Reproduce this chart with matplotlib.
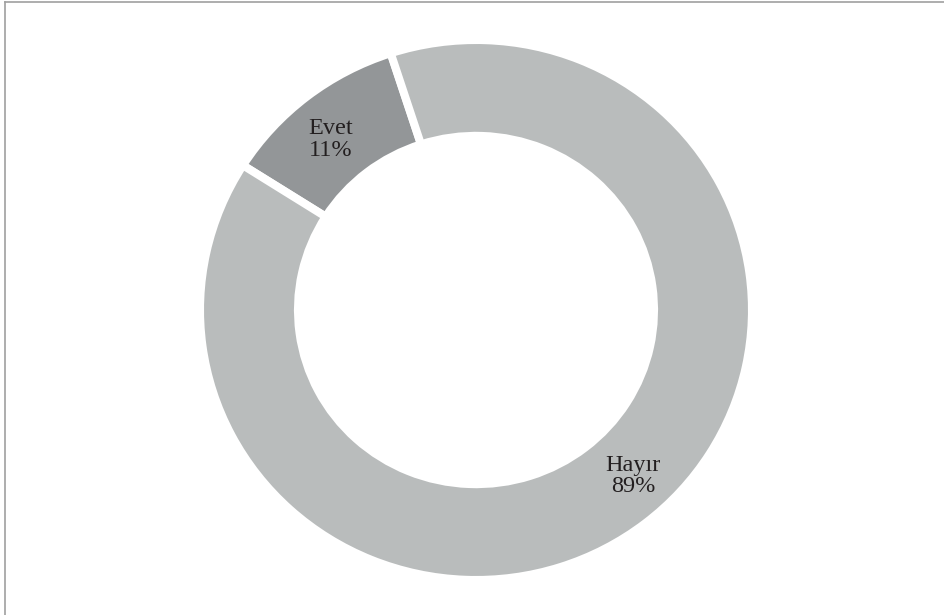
import matplotlib
matplotlib.use("Agg")
import matplotlib.pyplot as plt
import numpy as np

categories = ["Evet", "Hayır"]
values = [11, 89]
pct_labels = ["11%", "89%"]
colors = ["#939698", "#b9bcbc"]

W, H = 944, 615
fig = plt.figure(figsize=(W / 100, H / 100), dpi=100)
fig.patch.set_facecolor("white")

cx, cy, Rx, Ry = 476, 310, 276, 270
ax = fig.add_axes([(cx - Rx) / W, (H - cy - Ry) / H, 2 * Rx / W, 2 * Ry / H])
wedges, texts = ax.pie(
    values,
    colors=colors,
    startangle=108,
    counterclock=True,
    radius=1.0,
    wedgeprops=dict(width=0.355, edgecolor="white", linewidth=5.8),
)
ax.set_xlim(-1, 1)
ax.set_ylim(-1, 1)
ax.set_aspect("auto")
ax.axis("off")

# label positions (angle in degrees, radius in axes data units)
label_angles = [129.7, -47.2]
label_radii = [0.822, 0.838]
for cat, pct, ang, rr in zip(categories, pct_labels, label_angles, label_radii):
    a = np.deg2rad(ang)
    ax.text(rr * np.cos(a), rr * np.sin(a), f"{cat}\n{pct}",
            ha="center", va="center", fontsize=17.5, family="Liberation Serif",
            color="#231f20", linespacing=1.05)

# partial frame (left and top edges)
fig.add_artist(plt.Line2D([4.5 / W, 4.5 / W], [0, 1 - 1.5 / H], transform=fig.transFigure,
                          color="#a0a0a0", linewidth=1.2))
fig.add_artist(plt.Line2D([4.5 / W, 1], [1 - 1.5 / H, 1 - 1.5 / H], transform=fig.transFigure,
                          color="#a0a0a0", linewidth=1.2))

fig.savefig("out.png", dpi=100, facecolor="white")
